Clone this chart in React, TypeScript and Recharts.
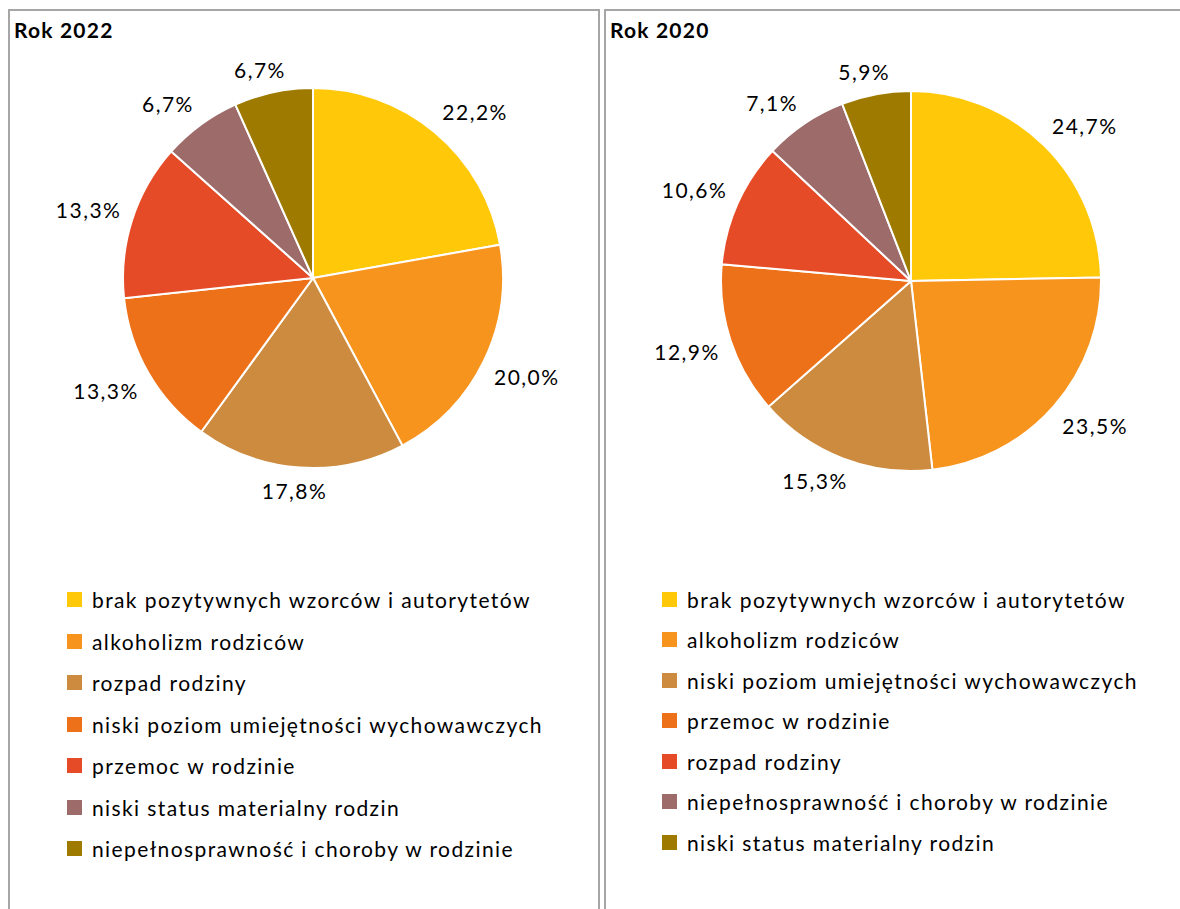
import React from "react";
import { PieChart, Pie, Cell, Legend } from "recharts";

const categories2022 = [
  "brak pozytywnych wzorców i autorytetów",
  "alkoholizm rodziców",
  "rozpad rodziny",
  "niski poziom umiejętności wychowawczych",
  "przemoc w rodzinie",
  "niski status materialny rodzin",
  "niepełnosprawność i choroby w rodzinie",
];
const values2022 = [22.2, 20.0, 17.8, 13.3, 13.3, 6.7, 6.7];

const categories2020 = [
  "brak pozytywnych wzorców i autorytetów",
  "alkoholizm rodziców",
  "niski poziom umiejętności wychowawczych",
  "przemoc w rodzinie",
  "rozpad rodziny",
  "niepełnosprawność i choroby w rodzinie",
  "niski status materialny rodzin",
];
const values2020 = [24.7, 23.5, 15.3, 12.9, 10.6, 7.1, 5.9];

const COLORS = ["#FFC90A", "#F7941E", "#CC8B3F", "#EC7118", "#E54B26", "#9C6B6A", "#9E7B00"];

const FONT = "Lato, 'Open Sans', sans-serif";
const RADIAN = Math.PI / 180;

const fmt = (v: number) => v.toFixed(1).replace(".", ",") + "%";

function renderLabel(props: any) {
  const { cx, cy, midAngle, outerRadius, value } = props;
  const dx = Math.cos(-midAngle * RADIAN);
  const dy = Math.sin(-midAngle * RADIAN);
  const text = fmt(value);
  const hw = text.length * 6.6;
  const hh = 12;
  const r = outerRadius + 11;
  const clamp = (v: number) => Math.max(-1, Math.min(1, v));
  const x = cx + r * dx + hw * clamp(dx * 2);
  const y = cy + r * dy + hh * clamp(dy * 2);
  return (
    <text
      x={x}
      y={y}
      textAnchor="middle"
      dominantBaseline="central"
      fontSize={21}
      fontFamily={FONT}
      letterSpacing={1.5}
      fill="#000"
    >
      {text}
    </text>
  );
}

function PanelChart({
  title,
  categories,
  values,
  cx,
  cy,
  legendLeft,
  legendGap,
}: {
  title: string;
  categories: string[];
  values: number[];
  cx: number;
  cy: number;
  legendLeft: number;
  legendGap: number;
}) {
  const data = categories.map((name, i) => ({ name, value: values[i] }));

  const legendContent = () => (
    <div style={{ fontFamily: FONT, fontSize: 21, letterSpacing: 1.4, color: "#000" }}>
      {data.map((d, i) => (
        <div
          key={d.name}
          style={{ display: "flex", alignItems: "center", height: legendGap, whiteSpace: "nowrap" }}
        >
          <span
            style={{
              display: "inline-block",
              width: 15,
              height: 15,
              background: COLORS[i],
              marginRight: 10,
            }}
          />
          <span>{d.name}</span>
        </div>
      ))}
    </div>
  );

  return (
    <div style={{ position: "relative", width: 600, height: 920 }}>
      <div
        style={{
          position: "absolute",
          left: 4,
          top: 6,
          fontFamily: FONT,
          fontWeight: 700,
          fontSize: 21,
          letterSpacing: 1.2,
          color: "#000",
        }}
      >
        {title}
      </div>
      <PieChart width={600} height={920}>
        <Pie
          data={data}
          dataKey="value"
          nameKey="name"
          cx={cx}
          cy={cy}
          outerRadius={190}
          startAngle={90}
          endAngle={-270}
          stroke="#fff"
          strokeWidth={2}
          label={renderLabel}
          labelLine={false}
          isAnimationActive={false}
        >
          {data.map((d, i) => (
            <Cell key={d.name} fill={COLORS[i]} />
          ))}
        </Pie>
        <Legend
          content={legendContent}
          wrapperStyle={{ position: "absolute", left: legendLeft, top: 568, width: "auto" }}
        />
      </PieChart>
    </div>
  );
}

export default function App() {
  return (
    <div
      style={{
        position: "absolute",
        left: 0,
        top: 0,
        width: 1180,
        height: 909,
        overflow: "hidden",
        background: "#fff",
      }}
    >
      <div
        style={{
          position: "absolute",
          left: 8,
          top: 9,
          width: 588,
          height: 940,
          border: "2px solid #A6A6A6",
          overflow: "hidden",
        }}
      >
        <PanelChart
          title="Rok 2022"
          categories={categories2022}
          values={values2022}
          cx={298}
          cy={262}
          legendLeft={57}
          legendGap={41.5}
        />
      </div>
      <div
        style={{
          position: "absolute",
          left: 604,
          top: 9,
          width: 620,
          height: 940,
          border: "2px solid #A6A6A6",
          overflow: "hidden",
        }}
      >
        <PanelChart
          title="Rok 2020"
          categories={categories2020}
          values={values2020}
          cx={300}
          cy={265}
          legendLeft={56}
          legendGap={40.5}
        />
      </div>
    </div>
  );
}
